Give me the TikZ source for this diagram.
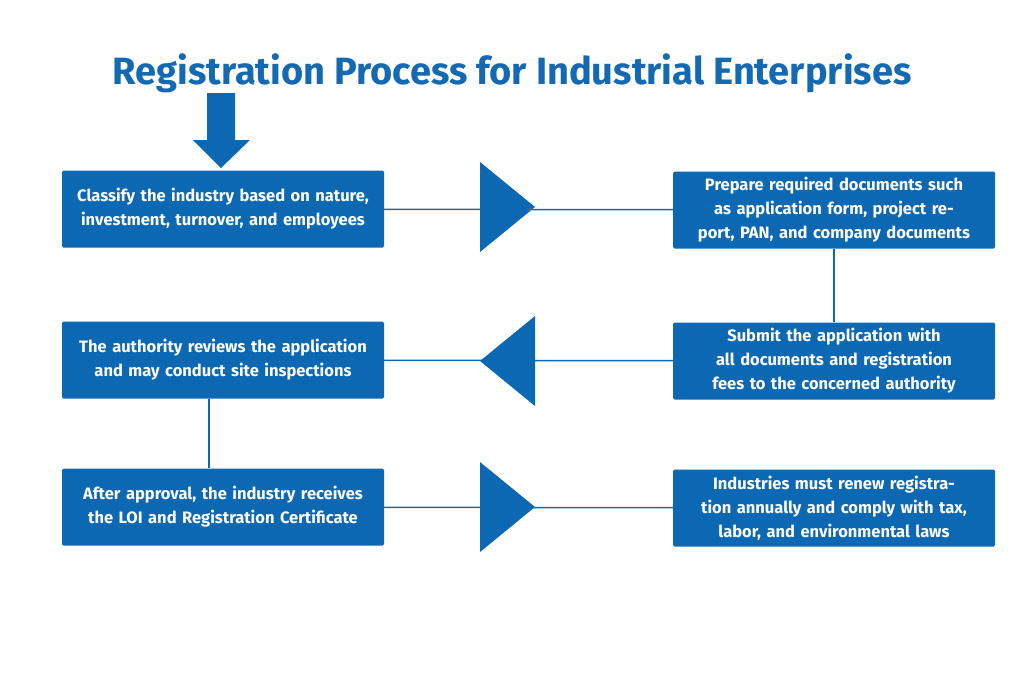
\documentclass[tikz,border=0pt]{standalone}
\usepackage{fontspec}
\setmainfont{Fira Sans}
\usetikzlibrary{positioning}
\definecolor{procblue}{HTML}{0D68B4}
\definecolor{titleblue}{HTML}{1469B3}
\tikzset{
  stepbox/.style={fill=procblue, draw=none, rounded corners=1.5pt, minimum width=322pt,
    minimum height=77pt, text width=310pt, align=center, text=white,
    font=\fontsize{16.5}{24}\selectfont\bfseries},
  link/.style={draw=procblue, line width=1.5pt},
  tri/.style={fill=procblue}
}
\begin{document}
\begin{tikzpicture}[x=1pt,y=-1pt]
  \useasboundingbox (0,0) rectangle (1024,683);
  % Title
  \node[text=titleblue, font=\fontsize{38}{44}\selectfont\bfseries] (title) at (512,73)
    {Registration Process for Industrial Enterprises};

  % Steps
  \node[stepbox] (classify) at (223,209) {Classify the industry based on nature, investment, turnover, and employees};
  \node[stepbox] (prepare) at (834,210) {Prepare required documents such as application form, project report, PAN, and company documents};
  \node[stepbox] (submit) at (834,361) {Submit the application with all documents and registration fees to the concerned authority};
  \node[stepbox] (review) at (223,360) {The authority reviews the application and may conduct site inspections};
  \node[stepbox] (approve) at (223,507) {After approval, the industry receives the LOI and Registration Certificate};
  \node[stepbox] (renew) at (834,508) {Industries must renew registration annually and comply with tax, labor, and environmental laws};

  % Connectors
  \draw[link] (classify) -- (prepare);
  \draw[link] (prepare) -- (submit);
  \draw[link] (submit) -- (review);
  \draw[link] (review.south -| 209,0) -- (approve.north -| 209,0);
  \draw[link] (approve) -- (renew);

  % Direction triangles
  \fill[tri] (480,162) -- (535,207) -- (480,252) -- cycle;
  \fill[tri] (535,316) -- (480,361) -- (535,406) -- cycle;
  \fill[tri] (480,462) -- (535,507) -- (480,552) -- cycle;

  % Start arrow
  \fill[tri] (207,93) -- (235,93) -- (235,140) -- (250,140) -- (221,168)
    -- (193,140) -- (207,140) -- cycle;
\end{tikzpicture}
\end{document}
